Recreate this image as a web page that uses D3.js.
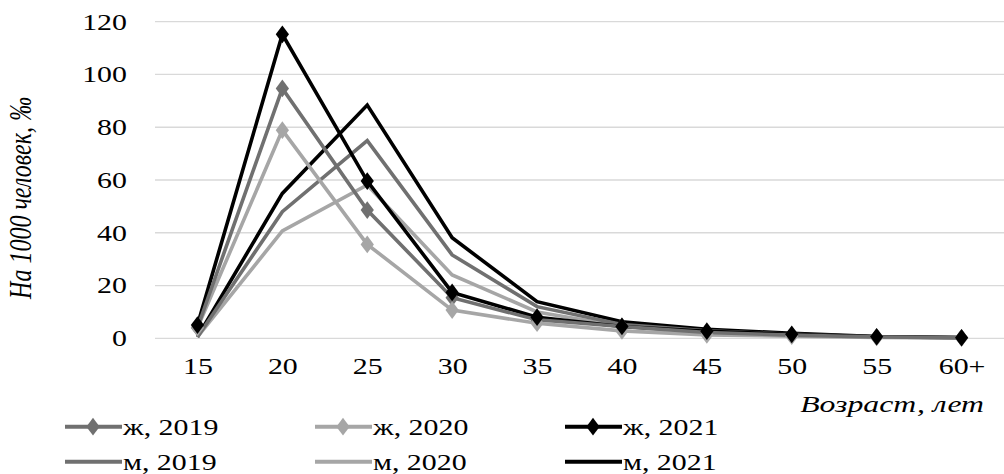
<!DOCTYPE html>
<html>
<head>
<meta charset="utf-8">
<script src="https://cdn.jsdelivr.net/npm/d3@7"></script>
<style>
    body { margin: 0; background: #fff; }
    svg { display: block; font-family: "Liberation Serif", "Times New Roman", serif; }
</style>
</head>
<body>
<div id="chart"></div>
<script>
// age groups on the x axis
var ages = ["15", "20", "25", "30", "35", "40", "45", "50", "55", "60+"];
var yTicks = [0, 20, 40, 60, 80, 100, 120];

// births per 1000 people, by sex and year
var f2019 = [4, 94.7, 48.6, 15.4, 7, 4.5, 2.2, 1.2, 0.5, 0.2];
var f2020 = [4, 78.9, 35.6, 10.7, 5.7, 2.8, 1.3, 0.8, 0.3, 0.1];
var f2021 = [5, 115.2, 59.6, 17.4, 8, 4.5, 2.7, 1.5, 0.6, 0.2];
var m2019 = [0.5, 48, 74.9, 31.6, 12, 5.2, 2.8, 1.5, 0.6, 0.3];
var m2020 = [0.5, 40.7, 58.1, 24, 10, 4.5, 2.2, 1.2, 0.5, 0.2];
var m2021 = [0.5, 54.9, 88.4, 38.1, 13.9, 6.3, 3.4, 1.9, 0.7, 0.3];

var series = [
    {name: "ж, 2019", values: f2019, color: "#707070", marker: true},
    {name: "ж, 2020", values: f2020, color: "#a6a6a6", marker: true},
    {name: "ж, 2021", values: f2021, color: "#000000", marker: true},
    {name: "м, 2019", values: m2019, color: "#707070", marker: false},
    {name: "м, 2020", values: m2020, color: "#a6a6a6", marker: false},
    {name: "м, 2021", values: m2021, color: "#000000", marker: false}
];

var width = 1004, height = 474;
var plotLeft = 155, plotRight = 1004, plotTop = 21.7, plotBottom = 338.3;
var stretch = 1.3; // the source text is drawn wider than normal

var svg = d3.select("#chart").append("svg")
    .attr("width", width)
    .attr("height", height);

var x = d3.scalePoint()
    .domain(ages)
    .range([plotLeft, plotRight])
    .padding(0.5);

var y = d3.scaleLinear()
    .domain([0, 120])
    .range([plotBottom, plotTop]);

// grid lines
svg.append("g")
    .selectAll("line")
    .data(yTicks)
    .enter()
    .append("line")
    .attr("x1", plotLeft)
    .attr("x2", plotRight)
    .attr("y1", function(d) { return y(d); })
    .attr("y2", function(d) { return y(d); })
    .attr("stroke", "#d9d9d9")
    .attr("stroke-width", 1.3);

var yAxis = svg.append("g")
    .attr("transform", "translate(127,0)")
    .call(d3.axisLeft(y).tickValues(yTicks).tickSize(0).tickPadding(0));
yAxis.select(".domain").remove();
yAxis.selectAll("text")
    .attr("font-family", "Liberation Serif")
    .attr("font-size", 23)
    .attr("fill", "#000")
    .attr("transform", "scale(" + stretch + ",1)");

var xAxis = svg.append("g")
    .attr("transform", "translate(0,358)")
    .call(d3.axisBottom(x).tickSize(0).tickPadding(0));
xAxis.select(".domain").remove();
xAxis.selectAll("text")
    .attr("font-family", "Liberation Serif")
    .attr("font-size", 23)
    .attr("fill", "#000")
    .attr("transform", "scale(" + stretch + ",1)");

svg.append("text")
    .attr("transform", "translate(31,198) scale(" + stretch + ",1) rotate(-90)")
    .attr("text-anchor", "middle")
    .attr("font-style", "italic")
    .attr("font-size", 24)
    .text("На 1000 человек, ‰");

svg.append("text")
    .attr("transform", "translate(984,412) scale(1.38,1)")
    .attr("text-anchor", "end")
    .attr("font-style", "italic")
    .attr("font-size", 23)
    .text("Возраст, лет");

var line = d3.line()
    .x(function(d, i) { return x(ages[i]); })
    .y(function(d) { return y(d); });

var diamond = d3.symbol().type(d3.symbolDiamond).size(90);

// lines drawn in reverse so the female series sit on top
var drawOrder = series.slice().reverse();
svg.append("g")
    .selectAll("path")
    .data(drawOrder)
    .enter()
    .append("path")
    .attr("fill", "none")
    .attr("stroke", function(d) { return d.color; })
    .attr("stroke-width", 3.6)
    .attr("d", function(d) { return line(d.values); });

series.filter(function(s) { return s.marker; }).forEach(function(s) {
    svg.append("g")
        .selectAll("path")
        .data(s.values)
        .enter()
        .append("path")
        .attr("transform", function(d, i) {
            return "translate(" + x(ages[i]) + "," + y(d) + ") scale(1.3,1)";
        })
        .attr("d", diamond)
        .attr("fill", s.color);
});

// legend
var legendX = [65, 315, 565];
var legendY = [426.7, 461.7];
var legend = svg.append("g")
    .selectAll("g")
    .data(series)
    .enter()
    .append("g")
    .attr("transform", function(d, i) {
        return "translate(" + legendX[i % 3] + "," + legendY[Math.floor(i / 3)] + ")";
    });

legend.append("line")
    .attr("x1", 0)
    .attr("x2", 57)
    .attr("stroke", function(d) { return d.color; })
    .attr("stroke-width", 4);

legend.filter(function(d) { return d.marker; })
    .append("path")
    .attr("transform", "translate(28,0) scale(1.3,1)")
    .attr("d", diamond)
    .attr("fill", function(d) { return d.color; });

legend.append("text")
    .attr("transform", "translate(58,8) scale(" + stretch + ",1)")
    .attr("font-size", 23)
    .text(function(d) { return d.name; });
</script>
</body>
</html>
